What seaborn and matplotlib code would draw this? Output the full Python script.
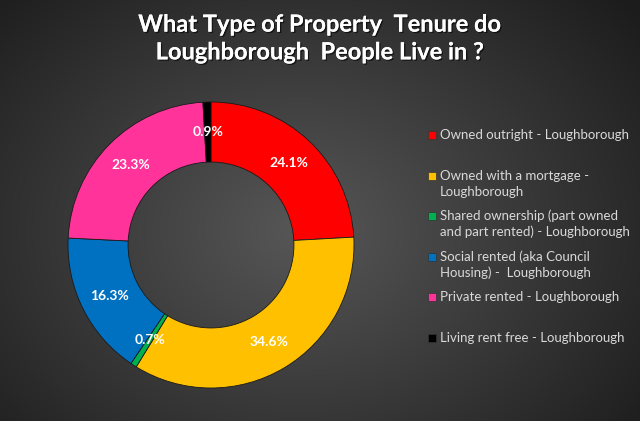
import numpy as np
import seaborn as sns
from matplotlib import pyplot as plt
from matplotlib import patheffects as pe
from matplotlib.patches import Rectangle

# data
categories = [
    "Owned outright - Loughborough",
    "Owned with a mortgage -\nLoughborough",
    "Shared ownership (part owned\nand part rented) - Loughborough",
    "Social rented (aka Council\nHousing) -  Loughborough",
    "Private rented - Loughborough",
    "Living rent free - Loughborough",
]
shares = [24.1, 34.6, 0.7, 16.3, 23.3, 0.9]
slice_colors = ["#FF0000", "#FFC000", "#00B050", "#0070C0", "#FF3399", "#000000"]
title = "What Type of Property  Tenure do\nLoughborough  People Live in ?"

W, H = 640, 421
sns.set_style("dark")
plt.rcParams["font.family"] = ["Lato", "DejaVu Sans"]

fig = plt.figure(figsize=(W / 100, H / 100), dpi=100)

# radial gradient background
bg = fig.add_axes([0, 0, 1, 1])
yy, xx = np.mgrid[0:H, 0:W]
dist = np.sqrt(((xx - 300) / 420.0) ** 2 + ((yy - 230) / 330.0) ** 2)
shade = np.clip(0.34 - 0.22 * dist, 0.11, 0.34)
bg.imshow(np.dstack([shade] * 3), extent=[0, W, H, 0], aspect="auto", zorder=0)
bg.set_xlim(0, W)
bg.set_ylim(H, 0)
bg.axis("off")

# donut: centre (211, 245) px, outer radius 143 px
cx, cy, R = 211, 245, 143
ax = fig.add_axes([(cx - R) / W, (H - cy - R) / H, 2 * R / W, 2 * R / H])
palette = sns.color_palette(slice_colors)
total = sum(shares)
wedges, texts, autotexts = ax.pie(
    shares,
    colors=palette,
    startangle=90,
    counterclock=False,
    radius=1.0,
    autopct=lambda p: f"{p * total / 100:.1f}%",
    pctdistance=0.79,
    wedgeprops=dict(width=0.42, edgecolor="#1a1a1a", linewidth=0.6),
    textprops=dict(color="white", fontsize=10, fontweight="bold"),
)
ax.set_xlim(-1, 1)
ax.set_ylim(-1, 1)
ax.set_aspect("equal")
ax.axis("off")

# title
fig.text(
    0.5, 1 - 38 / H, title,
    ha="center", va="center", color="white", fontsize=17, fontweight="bold",
    linespacing=1.25,
    path_effects=[pe.withSimplePatchShadow(offset=(1, -1), shadow_rgbFace="black", alpha=0.6), pe.Normal()],
)

# legend, Excel style: fixed slot per entry, marker on the first line
top_y, step, line_h = 135, 40.6, 16
for i, (label, col) in enumerate(zip(categories, slice_colors)):
    y = top_y + i * step
    bg.add_patch(Rectangle((428, y - 4), 8, 8, facecolor=col, edgecolor="#333333", linewidth=0.5, zorder=3))
    for j, line in enumerate(label.split("\n")):
        bg.text(440, y + j * line_h, line, ha="left", va="center", color="#d9d9d9", fontsize=9.5, zorder=3)

plt.savefig("out.png", dpi=100)
plt.close("all")
